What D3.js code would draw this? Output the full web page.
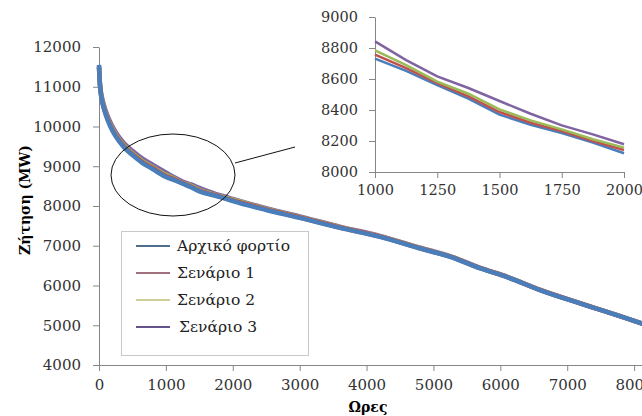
<html>
<head>
<meta charset="utf-8">
<script src="https://d3js.org/d3.v7.min.js"></script>
<style>
  body { margin: 0; background: #fff; }
</style>
</head>
<body>
<svg class="chart" width="642" height="416"></svg>
<script>

// hours of the year (load duration curve) and demand in MW for each series
const hours = [0, 10, 25, 50, 100, 175, 250, 375, 500, 650, 800, 1000, 1125, 1250, 1375, 1500, 1625, 1750, 1875, 2000, 2500, 3000, 3600, 4200, 4800, 5250, 5700, 6100, 6600, 7200, 7750, 8120, 8760];
const base = [11550, 11150, 10850, 10600, 10300, 9980, 9750, 9470, 9280, 9080, 8930, 8731, 8652, 8561, 8473, 8370, 8305, 8252, 8190, 8121, 7900, 7700, 7450, 7222, 6930, 6720, 6430, 6210, 5880, 5545, 5250, 5040, 4700];
const s1 = [11520, 11150, 10870, 10620, 10320, 10000, 9775, 9495, 9305, 9105, 8955, 8757, 8670, 8574, 8488, 8387, 8318, 8264, 8200, 8142, 7915, 7712, 7460, 7230, 6938, 6726, 6435, 6214, 5882, 5547, 5251, 5041, 4700];
const s2 = [11500, 11160, 10890, 10640, 10340, 10030, 9800, 9520, 9330, 9130, 8980, 8785, 8690, 8583, 8505, 8404, 8333, 8275, 8211, 8157, 7925, 7720, 7468, 7236, 6943, 6730, 6438, 6216, 5884, 5548, 5252, 5042, 4700];
const s3 = [11480, 11180, 10920, 10690, 10400, 10090, 9860, 9580, 9390, 9190, 9040, 8843, 8722, 8617, 8542, 8458, 8376, 8301, 8243, 8179, 7945, 7738, 7482, 7250, 6955, 6740, 6445, 6222, 5888, 5550, 5253, 5043, 4700];

const seriesNames = ["Αρχικό φορτίο", "Σενάριο 1", "Σενάριο 2", "Σενάριο 3"];
const seriesValues = [base, s1, s2, s3];
const lineColors = ["#4a7ebb", "#c0504d", "#9bbb59", "#8064a2"];
const legendColors = ["#4d6f8c", "#a0707c", "#cfcf9a", "#64548a"];

const mainXTicks = [0, 1000, 2000, 3000, 4000, 5000, 6000, 7000, 8000, 9000];
const mainYTicks = [4000, 5000, 6000, 7000, 8000, 9000, 10000, 11000, 12000];
const insetXTicks = [1000, 1250, 1500, 1750, 2000];
const insetYTicks = [8000, 8200, 8400, 8600, 8800, 9000];

const svg = d3.select(".chart");
const axisColor = "#868686";
const serif = "DejaVu Serif";

function series(i) {
  return hours.map((h, j) => ({ h: h, v: seriesValues[i][j] }));
}

function styleAxis(g, size) {
  g.attr("font-family", serif).attr("font-size", size);
  g.select(".domain").attr("stroke", axisColor);
  g.selectAll(".tick line").attr("stroke", axisColor);
  g.selectAll(".tick text").style("font-family", serif).style("font-size", size + "px").attr("fill", "#333");
}

// ---- main chart
let x = d3.scaleLinear().domain([0, 9000]).range([99, 701]);
let y = d3.scaleLinear().domain([4000, 12000]).range([365, 47]);

svg.append("g")
    .attr("transform", "translate(0,365)")
    .call(d3.axisBottom(x).tickValues(mainXTicks).tickFormat(d3.format("d")).tickSize(6).tickSizeOuter(0).tickPadding(8))
    .call(styleAxis, 15);

svg.append("g")
    .attr("transform", "translate(99,0)")
    .call(d3.axisLeft(y).tickValues(mainYTicks).tickFormat(d3.format("d")).tickSize(6).tickSizeOuter(0).tickPadding(12))
    .call(styleAxis, 15);

let line = d3.line()
    .x(d => x(d.h))
    .y(d => y(d.v))
    .curve(d3.curveMonotoneX);

// scenarios underneath, base curve on top
[3, 2, 1, 0].forEach(i => {
  svg.append("path")
      .datum(series(i))
      .attr("fill", "none")
      .attr("stroke", lineColors[i])
      .attr("stroke-width", 4.5)
      .attr("stroke-linejoin", "round")
      .attr("d", line);
});

// axis titles
svg.append("text")
    .attr("x", 368).attr("y", 412)
    .attr("text-anchor", "middle")
    .style("font-family", serif)
    .attr("font-weight", "bold").attr("font-size", 14)
    .text("Ωρες");

svg.append("text")
    .attr("transform", "translate(30,200) rotate(-90)")
    .attr("text-anchor", "middle")
    .style("font-family", serif)
    .attr("font-weight", "bold").attr("font-size", 14)
    .text("Ζήτηση (MW)");

// ellipse + pointer to the inset
svg.append("ellipse")
    .attr("cx", 173).attr("cy", 175).attr("rx", 62).attr("ry", 41)
    .attr("fill", "none").attr("stroke", "#111").attr("stroke-width", 1);
svg.append("line")
    .attr("x1", 235).attr("y1", 163).attr("x2", 295).attr("y2", 147)
    .attr("stroke", "#111").attr("stroke-width", 1);

// legend
const legend = svg.append("g");
legend.append("rect")
    .attr("x", 121.5).attr("y", 231.5).attr("width", 187).attr("height", 124)
    .attr("fill", "#fff").attr("stroke", "#c8c8c8");
const rowY = d3.scalePoint().domain(seriesNames).range([246, 327]);
seriesNames.forEach((name, i) => {
  legend.append("line")
      .attr("x1", 136).attr("x2", 170)
      .attr("y1", rowY(name)).attr("y2", rowY(name))
      .attr("stroke", legendColors[i]).attr("stroke-width", 2);
  legend.append("text")
      .attr("x", i == 3 ? 179 : 177).attr("y", rowY(name) + 5)
      .style("font-family", serif)
      .attr("font-size", 15.5)
      .attr("fill", "#222")
      .text(name);
});

// ---- inset zoom 1000-2000 h
let ix = d3.scaleLinear().domain([1000, 2000]).range([375, 624]);
let iy = d3.scaleLinear().domain([8000, 9000]).range([172, 17]);

svg.append("g")
    .attr("transform", "translate(0,172)")
    .call(d3.axisBottom(ix).tickValues(insetXTicks).tickFormat(d3.format("d")).tickSize(6).tickSizeOuter(0).tickPadding(7))
    .call(styleAxis, 14.5);

svg.append("g")
    .attr("transform", "translate(375,0)")
    .call(d3.axisLeft(iy).tickValues(insetYTicks).tickFormat(d3.format("d")).tickSize(6).tickSizeOuter(0).tickPadding(11))
    .call(styleAxis, 14.5);

let iline = d3.line()
    .x(d => ix(d.h))
    .y(d => iy(d.v));

[0, 1, 2, 3].forEach(i => {
  svg.append("path")
      .datum(series(i).filter(d => d.h >= 1000 && d.h <= 2000))
      .attr("fill", "none")
      .attr("stroke", lineColors[i])
      .attr("stroke-width", 2.5)
      .attr("d", iline);
});

</script>
</body>
</html>
